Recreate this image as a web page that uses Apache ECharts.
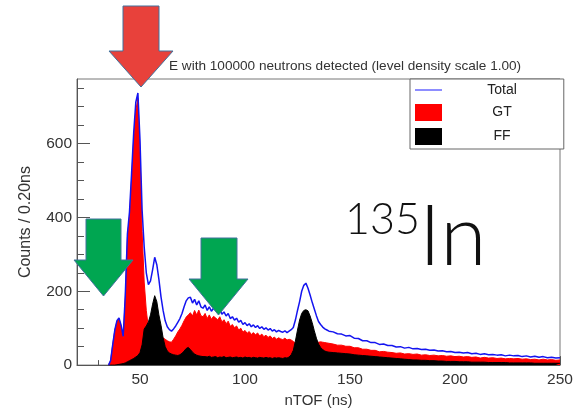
<!DOCTYPE html>
<html>
<head>
<meta charset="utf-8">
<script src="https://cdn.jsdelivr.net/npm/echarts@6/dist/echarts.min.js"></script>
<style>
html,body{margin:0;padding:0;background:#fff;}
#c{width:583px;height:413px;}
</style>
</head>
<body>
<div id="c"></div>
<script>
// nTOF bin positions (ns)
const tof = [35,36,37,38,39,40,41,42,43,44,45,46,47,48,49,50,51,52,53,54,55,56,57,58,59,60,61,62,63,64,65,66,67,68,69,70,71,72,73,74,75,76,77,78,79,80,81,82,83,84,85,86,87,88,89,90,91,92,93,94,95,96,97,98,99,100,101,102,103,104,105,106,107,108,109,110,111,112,113,114,115,116,117,118,119,120,121,122,123,124,125,126,127,128,129,130,131,132,133,134,135,136,137,138,139,140,
142,144,146,148,150,152,154,156,158,160,162,164,166,168,170,172,174,176,178,180,182,184,186,188,190,192,194,196,198,200,202,204,206,208,210,212,214,216,218,220,222,224,226,228,230,232,234,236,238,240,242,244,246,248,250];

const total = [0,12,55,95,120,128,108,78,190,355,
415,520,630,712,737,610,420,320,250,218,
228,258,292,272,232,185,148,120,104,96,
92,98,106,116,126,140,158,174,182,184,
168,178,163,174,158,154,163,148,158,146,
154,149,143,152,138,144,133,140,126,131,
122,127,116,121,110,115,107,112,104,109,
102,107,99,104,97,101,95,99,92,96,
90,94,91,89,93,88,92,96,102,122,
148,172,200,216,222,208,190,170,152,134,
118,110,103,98,95,92,
90,85,84,79,80,73,72,66,66,61,61,56,57,53,53,49,50,46,48,44,45,42,43,40,41,38,39,36,37,34,35,33,34,31,32,29,31,28,29,27,28,25,27,25,26,23,25,22,24,21,23,20,21,19,20];

const gt = [0,12,55,94,118,126,105,74,184,345,
403,505,612,690,722,575,362,225,148,100,
92,92,103,100,96,78,74,70,66,63,
62,70,79,90,98,108,120,130,136,142,
133,148,136,149,134,131,140,126,136,124,
132,128,122,131,117,123,112,119,105,110,
101,106,95,100,89,94,86,91,83,88,
82,87,79,84,77,81,75,79,72,76,
70,74,71,69,73,68,70,68,64,60,
56,52,56,62,66,62,58,56,60,62,
62,63,62,61,60,59,
57,54,54,51,51,47,47,43,43,40,40,36,37,35,34,32,33,30,31,29,30,27,28,26,27,25,26,24,25,23,24,22,23,21,22,19,21,19,20,18,19,17,18,17,18,16,17,15,16,14,16,14,15,13,14];

const ff = [0,0,0,0,1,2,3,4,6,9,
12,15,18,22,26,34,55,98,106,117,
136,165,188,172,136,108,74,50,38,33,
30,28,27,26,28,32,38,45,48,42,
35,30,27,25,24,23,23,22,24,21,
22,23,20,22,21,23,20,21,22,20,
21,22,20,21,19,22,20,21,19,21,
20,19,21,20,19,21,19,20,18,20,
19,20,19,18,20,19,22,28,40,65,
95,122,140,148,150,147,133,115,93,73,
57,48,42,38,36,35,
34,33,32,31,30,28,27,26,25,24,23,22,21,20,19,18,17,16,15,14,14,13,13,12,12,11,11,10,10,10,9,9,9,8,8,8,8,7,7,7,7,7,6,6,6,6,6,6,5,5,5,5,5,5,5];

const xMajor = [50,100,150,200,250];
const xMinor = [30,40,60,70,80,90,110,120,130,140,160,170,180,190,210,220,230,240];
const yMajor = [0,200,400,600];
const yMinor = [50,100,150,250,300,350,450,500,550,650,700,750];

const titleText = 'E with 100000 neutrons detected (level density scale 1.00)';

const pairs = (ys) => tof.map((x,i) => [x, ys[i]]);
const FONT = '"Liberation Sans", Arial, sans-serif';

const chart = echarts.init(document.getElementById('c'), null, {renderer:'canvas'});
chart.setOption({
  animation: false,
  backgroundColor: '#ffffff',
  title: {
    text: titleText, left: 164, top: 54,
    textStyle: {fontFamily: FONT, fontSize: 13.6, fontWeight: 'normal', color: '#333'}
  },
  grid: {left: 77, right: 23, top: 79, bottom: 38, show: true, borderColor: '#777', borderWidth: 1, backgroundColor: 'transparent'},
  legend: {
    orient: 'vertical', left: 410, top: 79,
    padding: [4, 47, 4, 5], itemWidth: 27, itemHeight: 17, itemGap: 7,
    backgroundColor: '#fff', borderColor: '#666', borderWidth: 1,
    data: [{name: 'Total', icon: 'path://M0,0H30V1.7H0Z'}, {name: 'GT', icon: 'rect'}, {name: 'FF', icon: 'rect'}],
    formatter: n => '{c|' + n + '}',
    textStyle: {fontFamily: FONT, fontSize: 14, color: '#222',
      rich: {c: {width: 110, align: 'center', fontFamily: FONT, fontSize: 14, color: '#222'}}}
  },
  xAxis: [{
    type: 'value', min: 20, max: 250,
    name: 'nTOF (ns)', nameLocation: 'middle', nameGap: 27,
    nameTextStyle: {fontFamily: FONT, fontSize: 15, color: '#333'},
    axisLine: {show: true, lineStyle: {color: '#555', width: 1}},
    axisTick: {show: true, inside: true, length: 9, customValues: xMajor, lineStyle: {color: '#555'}},
    axisLabel: {customValues: xMajor, fontFamily: FONT, fontSize: 15.5, color: '#333', margin: 7},
    splitLine: {show: false}
  }, {
    type: 'value', min: 20, max: 250, position: 'bottom',
    axisLine: {show: false}, axisLabel: {show: false}, splitLine: {show: false},
    axisTick: {show: true, inside: true, length: 5, customValues: xMinor, lineStyle: {color: '#555'}}
  }],
  yAxis: [{
    type: 'value', min: 0, max: 775,
    name: 'Counts / 0.20ns', nameLocation: 'middle', nameGap: 43,
    nameTextStyle: {fontFamily: FONT, fontSize: 16, color: '#333'},
    axisLine: {show: true, lineStyle: {color: '#555', width: 1}},
    axisTick: {show: true, inside: true, length: 13, customValues: yMajor, lineStyle: {color: '#555'}},
    axisLabel: {customValues: yMajor, fontFamily: FONT, fontSize: 15.5, color: '#333', margin: 5},
    splitLine: {show: false}
  }, {
    type: 'value', min: 0, max: 775, position: 'left',
    axisLine: {show: false}, axisLabel: {show: false}, splitLine: {show: false},
    axisTick: {show: true, inside: true, length: 7, customValues: yMinor, lineStyle: {color: '#555'}}
  }],
  series: [{
    name: 'GT', type: 'line', data: pairs(gt), symbol: 'none', z: 2,
    lineStyle: {color: '#ff0000', width: 1}, itemStyle: {color: '#ff0000'},
    areaStyle: {color: '#ff0000', opacity: 1}
  }, {
    name: 'FF', type: 'line', data: pairs(ff), symbol: 'none', z: 3,
    lineStyle: {color: '#000000', width: 1}, itemStyle: {color: '#000000'},
    areaStyle: {color: '#000000', opacity: 1}
  }, {
    name: 'Total', type: 'line', data: pairs(total), symbol: 'none', z: 4,
    lineStyle: {color: '#1414f0', width: 1.5}, itemStyle: {color: '#6a6aff'}
  }],
  graphic: [
    {type: 'polygon', z: 100, shape: {points: [[123,6],[159,6],[159,51],[173,51],[141,87],[109,51],[123,51]]},
      style: {fill: '#E8413B', stroke: '#41719C', lineWidth: 1}},
    {type: 'polygon', z: 100, shape: {points: [[86,219],[121,219],[121,260],[133,260],[103.5,296],[74,260],[86,260]]},
      style: {fill: '#00A651', stroke: '#41719C', lineWidth: 1}},
    {type: 'polygon', z: 100, shape: {points: [[201,238],[237,238],[237,279],[248,279],[218.5,315],[189,279],[201,279]]},
      style: {fill: '#00A651', stroke: '#41719C', lineWidth: 1}},
    {type: 'text', z: 100, style: {text: '135', x: 345, y: 199, fontFamily: 'Lato, "Open Sans", sans-serif', fontWeight: 300, fontSize: 43, fill: '#111', textVerticalAlign: 'top'}},
    {type: 'text', z: 100, style: {text: 'In', x: 419, y: 196, fontFamily: 'Lato, "Open Sans", sans-serif', fontWeight: 300, fontSize: 84, fill: '#111', textVerticalAlign: 'top'}}
  ]
});
</script>
</body>
</html>
